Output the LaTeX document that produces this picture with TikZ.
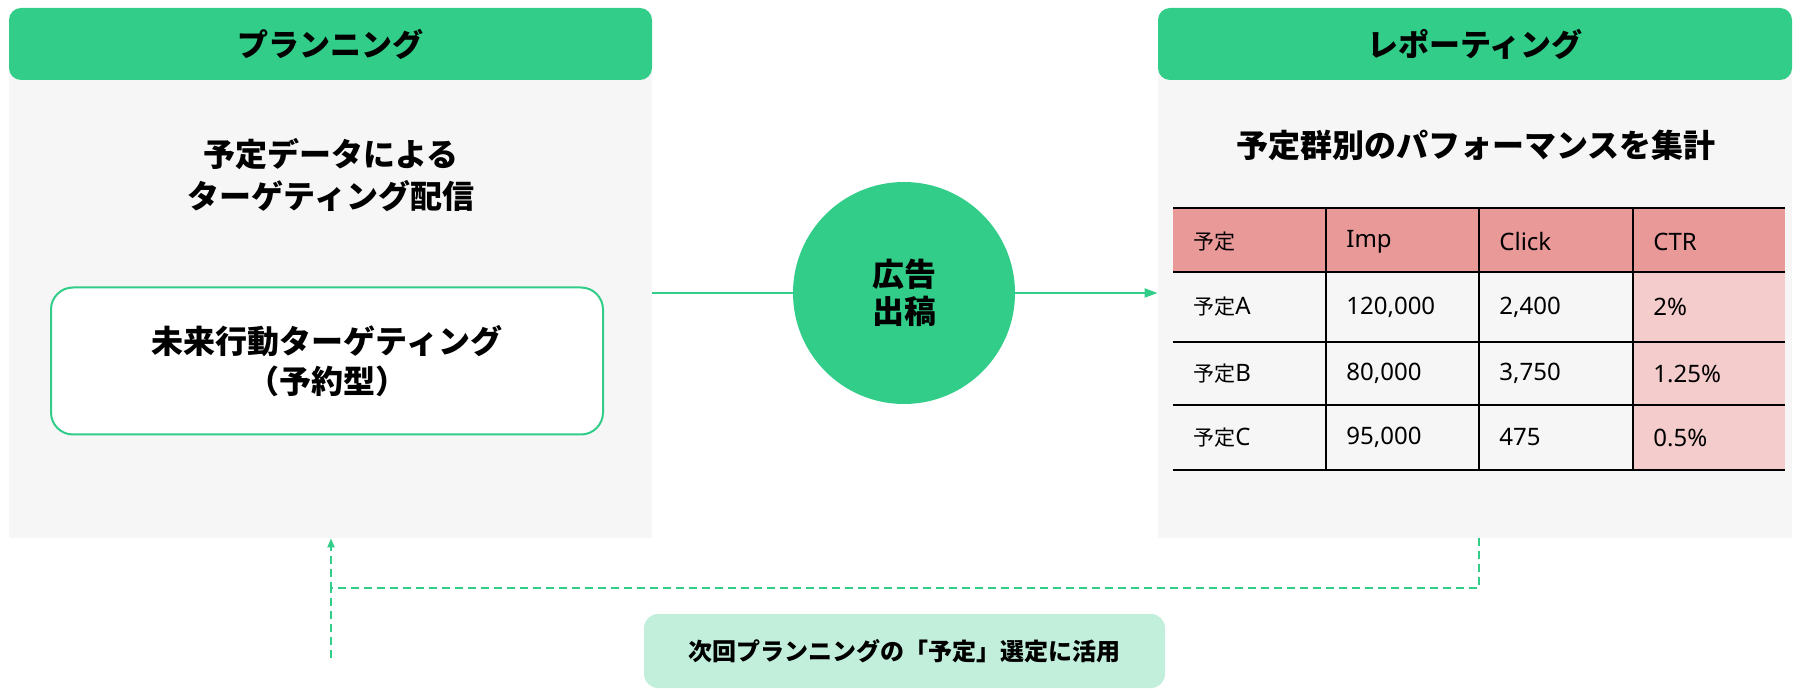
\documentclass[tikz,border=0pt]{standalone}
\usepackage{fontspec}
\setmainfont{Noto Sans CJK JP}
\newfontfamily\latinfont{Noto Sans}
\usepackage{xcolor}
\usetikzlibrary{arrows.meta}

\definecolor{mintgreen}{HTML}{31CD89}
\definecolor{panelgray}{HTML}{F6F6F6}
\definecolor{notegreen}{HTML}{C2EFDB}
\definecolor{headred}{HTML}{EA9999}
\definecolor{ctrpink}{HTML}{F4CCCC}

\newcommand{\yotei}{{\rmfamily\fontsize{10.5}{14}\selectfont 予定}}

\begin{document}
\begin{tikzpicture}[x=0.5pt, y=-0.5pt,
      panel/.style={rectangle, fill=panelgray, inner sep=0pt},
      headbox/.style={rectangle, fill=mintgreen, rounded corners=6pt, minimum height=36pt, inner sep=0pt, font=\fontsize{15.5}{18}\selectfont\bfseries},
      title/.style={align=center, font=\fontsize{16}{21}\selectfont\bfseries},
      cell/.style={anchor=west, inner sep=0pt, font=\latinfont\fontsize{12}{14}\selectfont},
      flow/.style={draw=mintgreen, line width=1pt},
      feedback/.style={draw=mintgreen, line width=1pt, dash pattern=on 4pt off 2.5pt}
    ]
      \useasboundingbox (0,0) rectangle (1794,689);

      % planning side
      \node[panel, minimum width=321.5pt, minimum height=234pt] (planPanel) at (330.5,304) {};
      \node[headbox, minimum width=321.5pt] (planHead) at (330.5,44) {プランニング};
      \node[title] (planTitle) at (331,175) {予定データによる\\ターゲティング配信};
      \node[rectangle, draw=mintgreen, line width=1pt, fill=white, rounded corners=11pt,
            minimum width=276pt, minimum height=73.5pt, title, font=\fontsize{16}{20}\selectfont\bfseries]
            (futureBox) at (327,361) {未来行動ターゲティング\\（予約型）};

      % ad placement
      \node[circle, fill=mintgreen, minimum size=111pt, inner sep=0pt, align=center,
            font=\fontsize{16}{18.5}\selectfont\bfseries] (adCircle) at (904,293) {広告\\出稿};

      % reporting side
      \node[panel, minimum width=317pt, minimum height=234pt] (repPanel) at (1475,304) {};
      \node[headbox, minimum width=317pt] (repHead) at (1475,44) {レポーティング};
      \node[title] (repTitle) at (1476,145) {予定群別のパフォーマンスを集計};

      % table
      \fill[headred] (1173,208) rectangle (1785,272);
      \fill[ctrpink] (1633,272) rectangle (1785,470);
      \draw[line width=1pt] (1173,208) -- (1785,208);
      \draw[line width=1pt] (1173,272) -- (1785,272);
      \draw[line width=1pt] (1173,342) -- (1785,342);
      \draw[line width=1pt] (1173,405) -- (1785,405);
      \draw[line width=1pt] (1173,470) -- (1785,470);
      \draw[line width=0.8pt] (1326,208) -- (1326,470);
      \draw[line width=0.8pt] (1479,208) -- (1479,470);
      \draw[line width=0.8pt] (1633,208) -- (1633,470);

      \node[cell] (hName)  at (1193,242) {\yotei};
      \node[cell] (hImp)   at (1346,242) {Imp};
      \node[cell] (hClick) at (1499,242) {Click};
      \node[cell] (hCtr)   at (1653,242) {CTR};

      \node[cell] (aName)  at (1193,307) {\yotei A};
      \node[cell] (aImp)   at (1346,307) {120,000};
      \node[cell] (aClick) at (1499,307) {2,400};
      \node[cell] (aCtr)   at (1653,307) {2\%};

      \node[cell] (bName)  at (1193,373.5) {\yotei B};
      \node[cell] (bImp)   at (1346,373.5) {80,000};
      \node[cell] (bClick) at (1499,373.5) {3,750};
      \node[cell] (bCtr)   at (1653,373.5) {1.25\%};

      \node[cell] (cName)  at (1193,437.5) {\yotei C};
      \node[cell] (cImp)   at (1346,437.5) {95,000};
      \node[cell] (cClick) at (1499,437.5) {475};
      \node[cell] (cCtr)   at (1653,437.5) {0.5\%};

      % note
      \node[rectangle, fill=notegreen, rounded corners=7pt, minimum width=260.5pt, minimum height=37pt,
            font=\fontsize{12}{14}\selectfont\bfseries] (reuseNote) at (904.5,651) {次回プランニングの「予定」選定に活用};

      % connectors
      \draw[flow] (planPanel.east |- adCircle.center) -- (adCircle);
      \draw[flow, -{Triangle[length=6.5pt, width=4.5pt]}] (adCircle) -- (repPanel.west |- adCircle.center);

      \coordinate (fbRight) at (1479,588);
      \coordinate (fbLeft)  at (331,588);
      \coordinate (fbFoot)  at (331,658);
      \draw[feedback, -{Triangle[length=4.5pt, width=3.5pt]}] (repPanel.south -| fbRight) -- (fbRight) -- (fbLeft) -- (planPanel.south -| fbLeft);
      \draw[feedback] (fbFoot) -- (fbLeft);
    \end{tikzpicture}
\end{document}
